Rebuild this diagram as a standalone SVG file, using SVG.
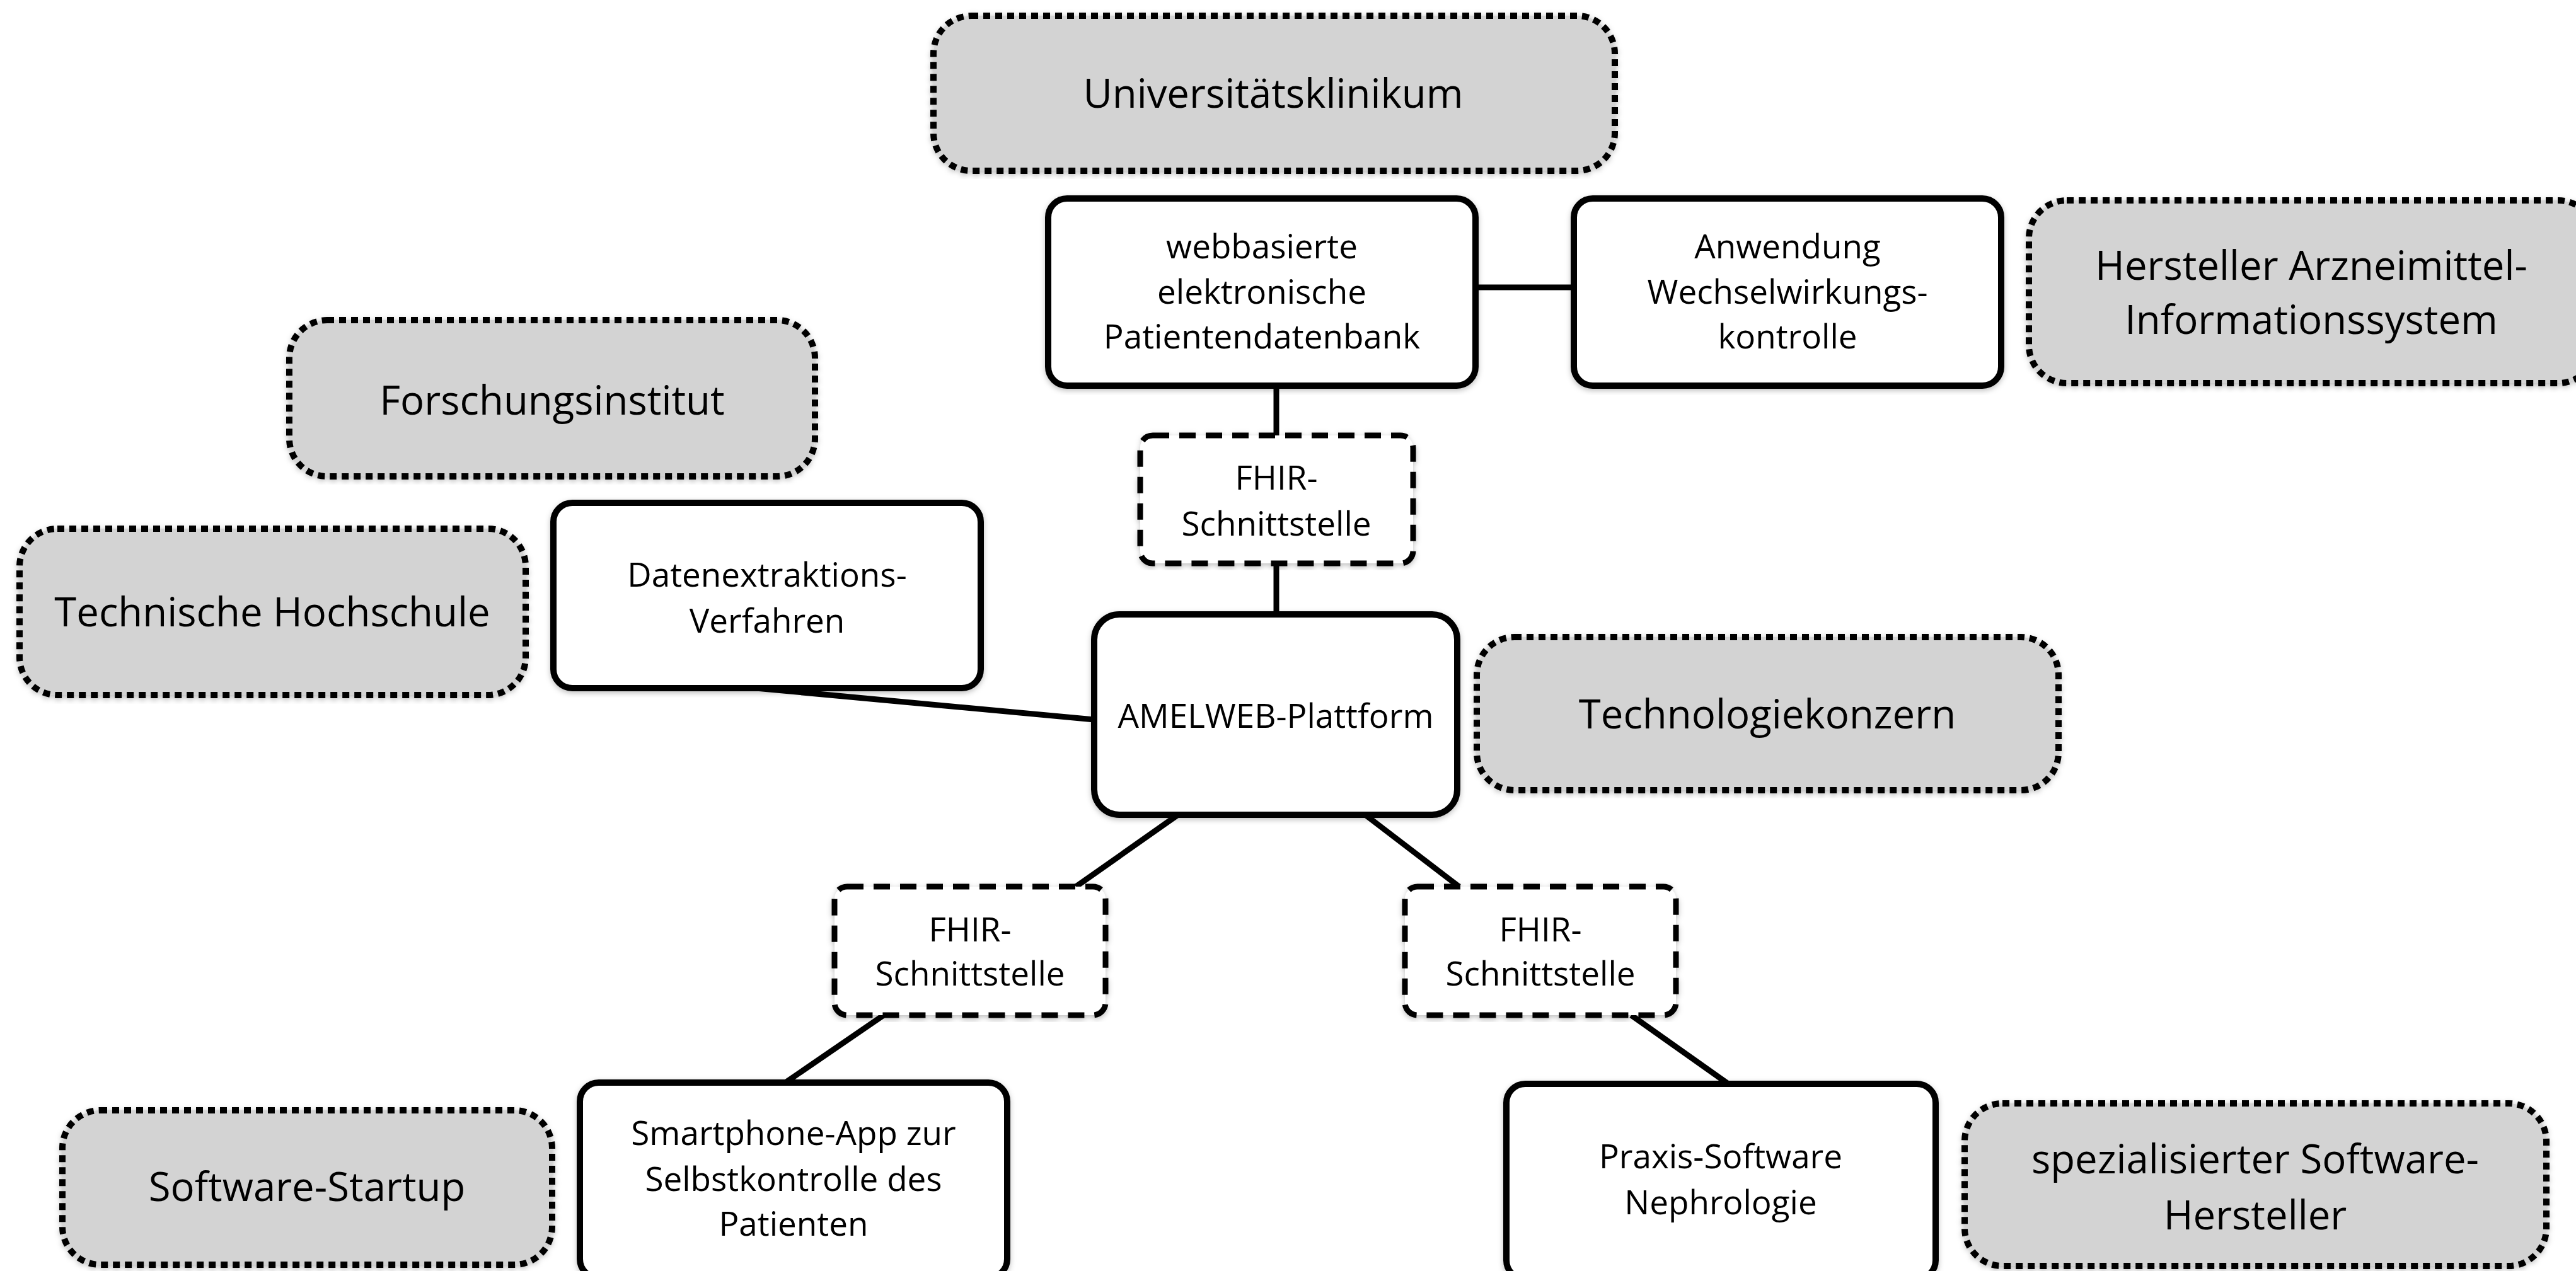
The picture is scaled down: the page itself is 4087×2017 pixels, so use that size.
<svg xmlns="http://www.w3.org/2000/svg" width="4087" height="2017" viewBox="0 0 4087 2017">
<defs>
<filter id="sh" x="-5%" y="-5%" width="110%" height="110%">
<feDropShadow dx="0" dy="3" stdDeviation="4" flood-color="#000" flood-opacity="0.25"/>
</filter>
<style>
.org{fill:#d3d3d3;stroke:#000;stroke-width:10;stroke-dasharray:11 8;filter:url(#sh)}
.sys{fill:#fff;stroke:#000;stroke-width:10;filter:url(#sh)}
.fhir{fill:#fff;stroke:#000;stroke-width:9;stroke-dasharray:26 16;filter:url(#sh)}
.t1{font-family:"Open Sans","DejaVu Sans",sans-serif;font-size:63.5px;fill:#000;text-anchor:middle}
.t2{font-family:"Open Sans","DejaVu Sans",sans-serif;font-size:53px;fill:#000;text-anchor:middle}
.c{stroke:#000;stroke-width:9;fill:none}
</style>
</defs>
<rect width="4087" height="2017" fill="#fff"/>
<g id="connectors">
<line class="c" x1="2025" y1="612" x2="2025" y2="691"/>
<line class="c" x1="2025" y1="894" x2="2025" y2="975"/>
<line class="c" x1="2341" y1="456" x2="2497" y2="456"/>
<line class="c" x1="1199" y1="1092" x2="1736" y2="1142"/>
<line class="c" x1="1869" y1="1293" x2="1707" y2="1407"/>
<line class="c" x1="2166" y1="1293" x2="2315" y2="1407"/>
<line class="c" x1="1402" y1="1611" x2="1246" y2="1718"/>
<line class="c" x1="2588" y1="1611" x2="2742" y2="1720"/>
</g>
<g id="universitaetsklinikum">
<rect class="org" x="1481" y="25" width="1081" height="246" rx="60"/>
<text class="t1" x="2020" y="171">Universitätsklinikum</text>
</g>
<g id="patientendatenbank">
<rect class="sys" x="1663" y="315" width="678" height="297" rx="30"/>
<text class="t2" x="2002" y="410">webbasierte</text>
<text class="t2" x="2002" y="482">elektronische</text>
<text class="t2" x="2002" y="553">Patientendatenbank</text>
</g>
<g id="wechselwirkung">
<rect class="sys" x="2497" y="315" width="678" height="297" rx="30"/>
<text class="t2" x="2836" y="410">Anwendung</text>
<text class="t2" x="2836" y="482">Wechselwirkungs-</text>
<text class="t2" x="2836" y="553">kontrolle</text>
</g>
<g id="hersteller-ami">
<rect class="org" x="3219" y="318" width="900" height="290" rx="60"/>
<text class="t1" x="3667" y="444">Hersteller Arzneimittel-</text>
<text class="t1" x="3667" y="530">Informationssystem</text>
</g>
<g id="forschungsinstitut">
<rect class="org" x="459" y="508" width="834" height="248" rx="60"/>
<text class="t1" x="876" y="658">Forschungsinstitut</text>
</g>
<g id="fhir-top">
<rect class="fhir" x="1809" y="691" width="433" height="203" rx="20"/>
<text class="t2" x="2025" y="777">FHIR-</text>
<text class="t2" x="2025" y="850">Schnittstelle</text>
</g>
<g id="technische-hochschule">
<rect class="org" x="31" y="839" width="803" height="264" rx="60"/>
<text class="t1" x="432" y="994">Technische Hochschule</text>
</g>
<g id="datenextraktion">
<rect class="sys" x="878" y="798" width="678" height="294" rx="30"/>
<text class="t2" x="1217" y="931">Datenextraktions-</text>
<text class="t2" x="1217" y="1004">Verfahren</text>
</g>
<g id="amelweb">
<rect class="sys" x="1736" y="975" width="576" height="318" rx="40"/>
<text class="t2" x="2024" y="1155">AMELWEB-Plattform</text>
</g>
<g id="technologiekonzern">
<rect class="org" x="2343" y="1011" width="923" height="243" rx="60"/>
<text class="t1" x="2804" y="1156">Technologiekonzern</text>
</g>
<g id="fhir-left">
<rect class="fhir" x="1324" y="1407" width="430" height="204" rx="20"/>
<text class="t2" x="1539" y="1494">FHIR-</text>
<text class="t2" x="1539" y="1564">Schnittstelle</text>
</g>
<g id="fhir-right">
<rect class="fhir" x="2229" y="1407" width="430" height="204" rx="20"/>
<text class="t2" x="2444" y="1494">FHIR-</text>
<text class="t2" x="2444" y="1564">Schnittstelle</text>
</g>
<g id="software-startup">
<rect class="org" x="99" y="1762" width="777" height="245" rx="60"/>
<text class="t1" x="487" y="1906">Software-Startup</text>
</g>
<g id="smartphone-app">
<rect class="sys" x="920" y="1718" width="678" height="310" rx="30"/>
<text class="t2" x="1259" y="1817">Smartphone-App zur</text>
<text class="t2" x="1259" y="1890">Selbstkontrolle des</text>
<text class="t2" x="1259" y="1961">Patienten</text>
</g>
<g id="praxis-software">
<rect class="sys" x="2390" y="1720" width="681" height="310" rx="30"/>
<text class="t2" x="2730" y="1854">Praxis-Software</text>
<text class="t2" x="2730" y="1927">Nephrologie</text>
</g>
<g id="software-hersteller">
<rect class="org" x="3117" y="1751" width="923" height="258" rx="60"/>
<text class="t1" x="3578" y="1862">spezialisierter Software-</text>
<text class="t1" x="3578" y="1951">Hersteller</text>
</g>
</svg>
